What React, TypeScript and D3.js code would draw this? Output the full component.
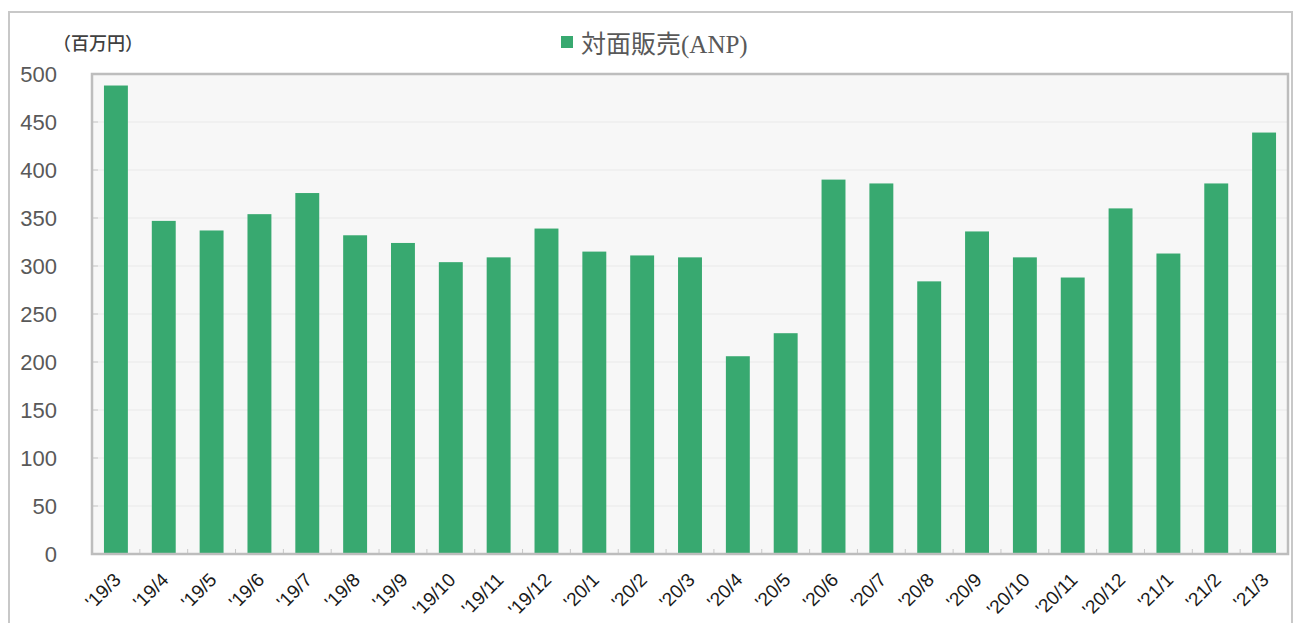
import React, { useEffect, useRef } from "react";
import * as d3 from "d3";

const months = [
  "'19/3", "'19/4", "'19/5", "'19/6", "'19/7", "'19/8", "'19/9", "'19/10", "'19/11", "'19/12",
  "'20/1", "'20/2", "'20/3", "'20/4", "'20/5", "'20/6", "'20/7", "'20/8", "'20/9", "'20/10",
  "'20/11", "'20/12", "'21/1", "'21/2", "'21/3",
];
const sales = [
  488, 347, 337, 354, 376, 332, 324, 304, 309, 339,
  315, 311, 309, 206, 230, 390, 386, 284, 336, 309,
  288, 360, 313, 386, 439,
];
const yTicks = [0, 50, 100, 150, 200, 250, 300, 350, 400, 450, 500];
const seriesName = "対面販売(ANP)";
const unitLabel = "（百万円）";

const App = () => {
  const svgRef = useRef<SVGSVGElement>(null);

  useEffect(() => {
    const width = 1295;
    const height = 623;
    const plot = { left: 92, top: 74, right: 1288, bottom: 554 };
    const green = "#38a970";

    const svg = d3.select(svgRef.current);
    svg.selectAll("*").remove();
    svg.attr("width", width).attr("height", height).style("background", "#fff");

    // outer frame
    svg.append("rect")
      .attr("x", 9).attr("y", 12)
      .attr("width", 1283).attr("height", 640)
      .attr("fill", "none").attr("stroke", "#c8c8c8").attr("stroke-width", 2);

    const x = d3.scaleBand().domain(months).range([plot.left, plot.right]).paddingInner(0.5).paddingOuter(0.25);
    const y = d3.scaleLinear().domain([0, 500]).range([plot.bottom, plot.top]);

    // plot background
    svg.append("rect")
      .attr("x", plot.left).attr("y", plot.top)
      .attr("width", plot.right - plot.left).attr("height", plot.bottom - plot.top)
      .attr("fill", "#f7f7f7");

    // gridlines
    svg.append("g")
      .selectAll("line")
      .data(yTicks.filter((t) => t > 0 && t < 500))
      .join("line")
      .attr("x1", plot.left).attr("x2", plot.right)
      .attr("y1", (d) => y(d)).attr("y2", (d) => y(d))
      .attr("stroke", "#e9e9e9").attr("stroke-width", 1);

    // left tick marks
    svg.append("g")
      .selectAll("line")
      .data(yTicks)
      .join("line")
      .attr("x1", plot.left).attr("x2", plot.left + 6)
      .attr("y1", (d) => y(d)).attr("y2", (d) => y(d))
      .attr("stroke", "#c8c8c8");

    // bottom tick marks at band boundaries
    const step = (plot.right - plot.left) / months.length;
    svg.append("g")
      .selectAll("line")
      .data(d3.range(1, months.length))
      .join("line")
      .attr("x1", (i) => plot.left + i * step).attr("x2", (i) => plot.left + i * step)
      .attr("y1", plot.bottom).attr("y2", plot.bottom - 5)
      .attr("stroke", "#c8c8c8");

    // bars
    svg.append("g")
      .selectAll("rect")
      .data(sales)
      .join("rect")
      .attr("x", (_, i) => x(months[i])!)
      .attr("y", (d) => y(d))
      .attr("width", x.bandwidth())
      .attr("height", (d) => y(0) - y(d))
      .attr("fill", green);

    // plot frame
    svg.append("rect")
      .attr("x", plot.left).attr("y", plot.top)
      .attr("width", plot.right - plot.left).attr("height", plot.bottom - plot.top)
      .attr("fill", "none").attr("stroke", "#bdbdbd").attr("stroke-width", 2.5);

    // y labels
    svg.append("g")
      .selectAll("text")
      .data(yTicks)
      .join("text")
      .attr("x", 57)
      .attr("y", (d) => y(d))
      .attr("dy", "0.36em")
      .attr("text-anchor", "end")
      .style("font-family", "'Liberation Sans', Arial, sans-serif")
      .style("font-size", "22px")
      .attr("fill", "#595959")
      .text((d) => d);

    // x labels
    svg.append("g")
      .selectAll("text")
      .data(months)
      .join("text")
      .attr("transform", (d) => `translate(${x(d)! + x.bandwidth() / 2 + 6},${plot.bottom + 27}) rotate(-45)`)
      .attr("text-anchor", "end")
      .style("font-family", "'Liberation Sans', Arial, sans-serif")
      .style("font-size", "19px")
      .attr("fill", "#1a1a1a")
      .text((d) => d);

    // unit label
    svg.append("text")
      .attr("x", 53).attr("y", 50)
      .style("font-family", "'Noto Sans CJK JP', sans-serif")
      .style("font-size", "18px")
      .style("font-weight", "500")
      .attr("fill", "#404040")
      .text(unitLabel);

    // legend
    svg.append("rect")
      .attr("x", 561).attr("y", 36).attr("width", 12).attr("height", 12)
      .attr("fill", green);
    svg.append("text")
      .attr("x", 581).attr("y", 53)
      .style("font-family", "'Liberation Serif', 'Noto Sans CJK JP', serif")
      .style("font-size", "25px")
      .attr("fill", "#595959")
      .text(seriesName);
  }, []);

  return (
    <div style={{ position: "absolute", left: 0, top: 0 }}>
      <svg ref={svgRef} style={{ display: "block" }} />
    </div>
  );
};

export default App;
